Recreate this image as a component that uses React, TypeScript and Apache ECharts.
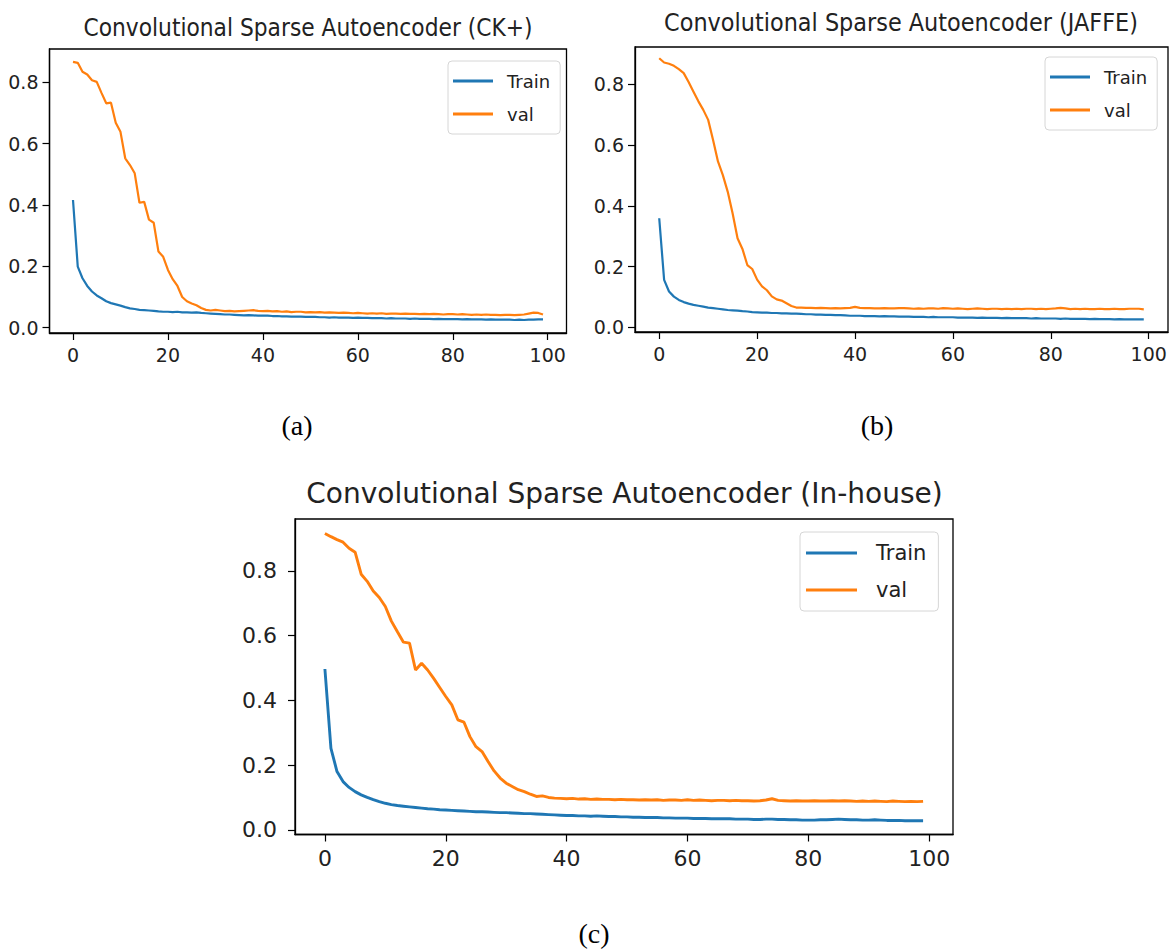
import React, { useEffect, useRef } from "react";
import * as echarts from "echarts";

// ---------- data ----------
const epochs: number[] = [
  0, 1, 2, 3, 4, 5, 6, 7, 8, 9, 10, 11, 12, 13, 14, 15, 16, 17, 18, 19,
  20, 21, 22, 23, 24, 25, 26, 27, 28, 29, 30, 31, 32, 33, 34, 35, 36, 37, 38, 39,
  40, 41, 42, 43, 44, 45, 46, 47, 48, 49, 50, 51, 52, 53, 54, 55, 56, 57, 58, 59,
  60, 61, 62, 63, 64, 65, 66, 67, 68, 69, 70, 71, 72, 73, 74, 75, 76, 77, 78, 79,
  80, 81, 82, 83, 84, 85, 86, 87, 88, 89, 90, 91, 92, 93, 94, 95, 96, 97, 98, 99,
];

const xTicks = [0, 20, 40, 60, 80, 100];
const yTicks = [0, 0.2, 0.4, 0.6, 0.8];

const titles = [
  "Convolutional Sparse Autoencoder (CK+)",
  "Convolutional Sparse Autoencoder (JAFFE)",
  "Convolutional Sparse Autoencoder (In-house)",
];
const captions = ["(a)", "(b)", "(c)"];
const seriesNames = ["Train", "val"];

const ckTrain = [
  0.416, 0.199, 0.161, 0.136, 0.118, 0.105, 0.096, 0.086, 0.080, 0.076,
  0.072, 0.067, 0.063, 0.061, 0.058, 0.057, 0.056, 0.055, 0.053, 0.052,
  0.052, 0.051, 0.052, 0.050, 0.050, 0.049, 0.050, 0.048, 0.047, 0.046,
  0.045, 0.044, 0.043, 0.043, 0.042, 0.041, 0.040, 0.041, 0.040, 0.039,
  0.039, 0.039, 0.038, 0.038, 0.037, 0.037, 0.036, 0.036, 0.036, 0.035,
  0.035, 0.035, 0.034, 0.034, 0.033, 0.034, 0.033, 0.033, 0.033, 0.032,
  0.033, 0.032, 0.032, 0.031, 0.031, 0.031, 0.030, 0.031, 0.030, 0.030,
  0.030, 0.029, 0.030, 0.029, 0.029, 0.029, 0.028, 0.029, 0.028, 0.028,
  0.028, 0.028, 0.027, 0.028, 0.027, 0.027, 0.027, 0.026, 0.027, 0.026,
  0.026, 0.026, 0.026, 0.025, 0.026, 0.025, 0.026, 0.026, 0.027, 0.027,
];
const ckVal = [
  0.866, 0.863, 0.834, 0.825, 0.806, 0.801, 0.765, 0.731, 0.733, 0.668,
  0.638, 0.552, 0.530, 0.503, 0.407, 0.410, 0.352, 0.342, 0.248, 0.231,
  0.188, 0.158, 0.136, 0.100, 0.086, 0.079, 0.073, 0.064, 0.058, 0.056,
  0.058, 0.056, 0.054, 0.055, 0.053, 0.054, 0.055, 0.056, 0.057, 0.055,
  0.054, 0.055, 0.053, 0.054, 0.052, 0.053, 0.051, 0.052, 0.052, 0.050,
  0.051, 0.050, 0.051, 0.049, 0.050, 0.049, 0.048, 0.049, 0.048, 0.047,
  0.048, 0.047, 0.046, 0.047, 0.046, 0.047, 0.045, 0.046, 0.046, 0.045,
  0.046, 0.045, 0.045, 0.044, 0.045, 0.044, 0.045, 0.044, 0.043, 0.044,
  0.044, 0.043, 0.044, 0.043, 0.042, 0.043, 0.042, 0.043, 0.042, 0.042,
  0.041, 0.042, 0.042, 0.041, 0.042, 0.043, 0.046, 0.049, 0.048, 0.043,
];

const jaffeTrain = [
  0.359, 0.156, 0.118, 0.101, 0.090, 0.083, 0.078, 0.074, 0.071, 0.068,
  0.065, 0.063, 0.061, 0.059, 0.057, 0.056, 0.055, 0.053, 0.052, 0.050,
  0.049, 0.048, 0.048, 0.047, 0.047, 0.046, 0.046, 0.045, 0.045, 0.044,
  0.043, 0.043, 0.042, 0.042, 0.041, 0.041, 0.040, 0.040, 0.039, 0.038,
  0.038, 0.038, 0.037, 0.037, 0.037, 0.036, 0.037, 0.036, 0.036, 0.035,
  0.035, 0.035, 0.034, 0.034, 0.034, 0.033, 0.034, 0.033, 0.033, 0.033,
  0.033, 0.032, 0.032, 0.032, 0.032, 0.031, 0.032, 0.031, 0.031, 0.031,
  0.030, 0.031, 0.030, 0.030, 0.030, 0.030, 0.029, 0.030, 0.029, 0.029,
  0.029, 0.029, 0.028, 0.029, 0.028, 0.028, 0.028, 0.028, 0.027, 0.028,
  0.027, 0.027, 0.027, 0.026, 0.027, 0.026, 0.026, 0.026, 0.026, 0.026,
];
const jaffeVal = [
  0.886, 0.872, 0.868, 0.861, 0.850, 0.837, 0.808, 0.776, 0.744, 0.716,
  0.683, 0.617, 0.546, 0.501, 0.446, 0.375, 0.293, 0.258, 0.205, 0.192,
  0.157, 0.135, 0.122, 0.102, 0.092, 0.088, 0.079, 0.070, 0.065, 0.065,
  0.064, 0.064, 0.063, 0.064, 0.063, 0.062, 0.063, 0.062, 0.063, 0.064,
  0.067, 0.064, 0.063, 0.063, 0.062, 0.062, 0.063, 0.062, 0.062, 0.063,
  0.063, 0.062, 0.061, 0.062, 0.061, 0.062, 0.062, 0.061, 0.063, 0.062,
  0.061, 0.062, 0.061, 0.060, 0.061, 0.062, 0.061, 0.060, 0.061, 0.061,
  0.060, 0.061, 0.060, 0.061, 0.060, 0.061, 0.061, 0.060, 0.061, 0.060,
  0.061, 0.062, 0.064, 0.062, 0.060, 0.061, 0.060, 0.061, 0.060, 0.060,
  0.061, 0.060, 0.060, 0.061, 0.060, 0.060, 0.061, 0.061, 0.061, 0.059,
];

const houseTrain = [
  0.497, 0.252, 0.180, 0.149, 0.131, 0.118, 0.108, 0.100, 0.093, 0.087,
  0.082, 0.078, 0.075, 0.073, 0.071, 0.069, 0.067, 0.065, 0.064, 0.062,
  0.061, 0.060, 0.059, 0.058, 0.057, 0.056, 0.056, 0.055, 0.054, 0.053,
  0.053, 0.052, 0.051, 0.050, 0.050, 0.049, 0.048, 0.047, 0.046, 0.045,
  0.044, 0.044, 0.043, 0.043, 0.042, 0.043, 0.042, 0.041, 0.041, 0.040,
  0.040, 0.039, 0.039, 0.038, 0.038, 0.038, 0.037, 0.037, 0.036, 0.036,
  0.036, 0.035, 0.035, 0.035, 0.034, 0.034, 0.034, 0.034, 0.033, 0.033,
  0.033, 0.032, 0.032, 0.033, 0.033, 0.032, 0.032, 0.031, 0.031, 0.030,
  0.030, 0.030, 0.031, 0.031, 0.032, 0.033, 0.032, 0.031, 0.031, 0.030,
  0.030, 0.031, 0.030, 0.029, 0.029, 0.029, 0.028, 0.028, 0.028, 0.028,
];
const houseVal = [
  0.916, 0.906, 0.897, 0.889, 0.870, 0.858, 0.790, 0.768, 0.738, 0.718,
  0.690, 0.645, 0.612, 0.580, 0.577, 0.494, 0.515, 0.494, 0.468, 0.440,
  0.412, 0.386, 0.340, 0.333, 0.288, 0.257, 0.242, 0.211, 0.182, 0.160,
  0.144, 0.134, 0.124, 0.118, 0.110, 0.103, 0.105, 0.100, 0.098, 0.097,
  0.096, 0.097, 0.095, 0.096, 0.094, 0.095, 0.094, 0.094, 0.093, 0.094,
  0.093, 0.093, 0.092, 0.093, 0.092, 0.093, 0.091, 0.092, 0.092, 0.091,
  0.093, 0.091, 0.092, 0.091, 0.090, 0.091, 0.091, 0.090, 0.091, 0.090,
  0.090, 0.089, 0.090, 0.092, 0.096, 0.091, 0.090, 0.089, 0.090, 0.089,
  0.089, 0.090, 0.089, 0.089, 0.090, 0.089, 0.090, 0.089, 0.088, 0.089,
  0.088, 0.089, 0.088, 0.087, 0.089, 0.088, 0.087, 0.088, 0.087, 0.088,
];

const trainSets = [ckTrain, jaffeTrain, houseTrain];
const valSets = [ckVal, jaffeVal, houseVal];

// ---------- layout / style ----------
const BLUE = "#1f77b4";
const ORANGE = "#ff7f0e";
const SANS = "'DejaVu Sans', sans-serif";
const SERIF = "'Liberation Serif', 'Times New Roman', serif";

const panels = [
  {
    grid: { left: 49.5, top: 49, width: 517, height: 284 },
    yMin: -0.0173, yMax: 0.908,
    font: 19, yMargin: 11, xMargin: 12, lineW: 2.2,
    title: { x: 308, y: 27, size: 25, sx: 0.872 },
    caption: { x: 297, y: 425 },
    legend: { left: 448, top: 61, iw: 40, lh: 20, gap: 13, pad: [10, 10, 10, 5], tpad: 9, fs: 18 },
  },
  {
    grid: { left: 635, top: 47, width: 533, height: 285 },
    yMin: -0.0155, yMax: 0.923,
    font: 19, yMargin: 11, xMargin: 12, lineW: 2.2,
    title: { x: 901, y: 23, size: 25, sx: 0.896 },
    caption: { x: 877, y: 425 },
    legend: { left: 1045, top: 57, iw: 40, lh: 20, gap: 13, pad: [10, 10, 10, 5], tpad: 9, fs: 18 },
  },
  {
    grid: { left: 295, top: 519, width: 658, height: 315.5 },
    yMin: -0.0145, yMax: 0.9606,
    font: 22, yMargin: 18, xMargin: 13, lineW: 2.9,
    title: { x: 624.5, y: 493, size: 28, sx: 1.0 },
    caption: { x: 594, y: 933 },
    legend: { left: 800, top: 532, iw: 51, lh: 24, gap: 13, pad: [9, 12, 9, 6], tpad: 14, fs: 21 },
  },
];

export default function App() {
  const ref = useRef<HTMLDivElement>(null);

  useEffect(() => {
    if (!ref.current) return;
    const chart = echarts.init(ref.current, undefined, { renderer: "svg" });

    const grids = panels.map((p) => ({
      ...p.grid,
      show: true,
      borderColor: "#000",
      borderWidth: 1.3,
      backgroundColor: "transparent",
      containLabel: false,
    }));

    const xAxes = panels.map((p, i) => ({
      type: "value",
      gridIndex: i,
      min: -4.95,
      max: 103.95,
      axisLine: { show: true, onZero: false, lineStyle: { color: "#000", width: 1.3 } },
      axisTick: {
        show: true,
        customValues: xTicks,
        length: 7,
        lineStyle: { color: "#000", width: 1.2 },
      },
      axisLabel: {
        customValues: xTicks,
        color: "#222",
        fontFamily: SANS,
        fontSize: p.font,
        margin: p.xMargin,
        formatter: (v: number) => String(v),
      },
      splitLine: { show: false },
    }));

    const yAxes = panels.map((p, i) => ({
      type: "value",
      gridIndex: i,
      min: p.yMin,
      max: p.yMax,
      axisLine: { show: true, onZero: false, lineStyle: { color: "#000", width: 1.3 } },
      axisTick: {
        show: true,
        customValues: yTicks,
        length: 7,
        lineStyle: { color: "#000", width: 1.2 },
      },
      axisLabel: {
        customValues: yTicks,
        color: "#222",
        fontFamily: SANS,
        fontSize: p.font,
        margin: p.yMargin,
        formatter: (v: number) => v.toFixed(1),
      },
      splitLine: { show: false },
    }));

    const series: any[] = [];
    panels.forEach((p, i) => {
      series.push({
        name: seriesNames[0],
        type: "line",
        xAxisIndex: i,
        yAxisIndex: i,
        data: epochs.map((e, k) => [e, trainSets[i][k]]),
        showSymbol: false,
        symbol: "none",
        lineStyle: { color: BLUE, width: p.lineW },
        itemStyle: { color: BLUE },
        z: 3,
      });
      series.push({
        name: seriesNames[1],
        type: "line",
        xAxisIndex: i,
        yAxisIndex: i,
        data: epochs.map((e, k) => [e, valSets[i][k]]),
        showSymbol: false,
        symbol: "none",
        lineStyle: { color: ORANGE, width: p.lineW },
        itemStyle: { color: ORANGE },
        z: 3,
      });
    });

    const legends = panels.map((p) => ({
      data: seriesNames,
      orient: "vertical",
      left: p.legend.left,
      top: p.legend.top,
      icon: "rect",
      itemWidth: p.legend.iw,
      itemHeight: 3,
      itemGap: p.legend.gap,
      padding: p.legend.pad,
      borderColor: "#d6d6d6",
      borderWidth: 1,
      borderRadius: 4,
      backgroundColor: "rgba(255,255,255,0.8)",
      selectedMode: false,
      textStyle: {
        fontFamily: SANS,
        fontSize: p.legend.fs,
        color: "#222",
        lineHeight: p.legend.lh,
        padding: [0, 0, 0, p.legend.tpad],
      },
    }));

    const graphics: any[] = [];
    panels.forEach((p, i) => {
      graphics.push({
        type: "text",
        x: p.title.x,
        y: p.title.y,
        scaleX: p.title.sx,
        style: {
          text: titles[i],
          fontFamily: SANS,
          fontSize: p.title.size,
          fill: "#222",
          align: "center",
          verticalAlign: "middle",
        },
      });
      graphics.push({
        type: "text",
        x: p.caption.x,
        y: p.caption.y,
        style: {
          text: captions[i],
          fontFamily: SERIF,
          fontSize: 28,
          fill: "#000",
          align: "center",
          verticalAlign: "middle",
        },
      });
    });

    chart.setOption({
      animation: false,
      backgroundColor: "#fff",
      grid: grids,
      xAxis: xAxes,
      yAxis: yAxes,
      legend: legends,
      series,
      graphic: graphics,
    });

    return () => chart.dispose();
  }, []);

  return (
    <div
      ref={ref}
      style={{ position: "absolute", left: 0, top: 0, width: 1173, height: 949, background: "#fff" }}
    />
  );
}
